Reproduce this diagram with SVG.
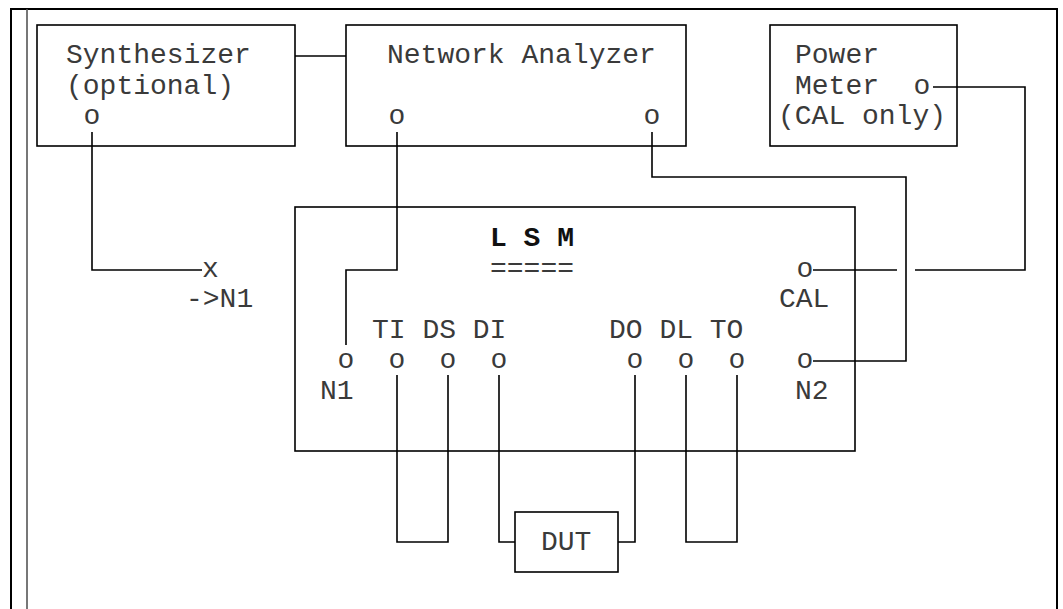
<svg xmlns="http://www.w3.org/2000/svg" width="1063" height="609" viewBox="0 0 1063 609">
<style>
.box{fill:none;stroke:#000;stroke-width:1.6}
.w{fill:none;stroke:#000;stroke-width:1.6}
text{font-family:"Liberation Mono","Courier New",monospace;font-size:28px;fill:#3a3a3a}
.p{text-anchor:middle}
.b{font-weight:bold;fill:#111}
</style>
<rect width="1063" height="609" fill="#fff"/>
<g id="frame">
<path d="M11,609 V9 H1057 V609" fill="none" stroke="#000" stroke-width="2"/>
<path d="M27,9 V609" fill="none" stroke="#555" stroke-width="1.6"/>
</g>
<g id="synthesizer">
<rect class="box" x="37" y="25" width="258" height="121"/>
<text x="66" y="63">Synthesizer</text>
<text x="66" y="93.5">(optional)</text>
<text class="p" x="92" y="124">o</text>
</g>
<g id="network-analyzer">
<rect class="box" x="346" y="25" width="340" height="121"/>
<text x="387" y="63">Network Analyzer</text>
<text class="p" x="397" y="124">o</text>
<text class="p" x="652" y="124">o</text>
</g>
<g id="power-meter">
<rect class="box" x="770" y="25" width="187" height="121"/>
<text x="795" y="63">Power</text>
<text x="795" y="93.5">Meter</text>
<text class="p" x="922" y="93.5">o</text>
<text x="778" y="124">(CAL only)</text>
</g>
<g id="lsm">
<rect class="box" x="295" y="207" width="560" height="244"/>
<text class="b" x="490" y="246">L S M</text>
<text x="490" y="276.5">=====</text>
<text class="p" x="805" y="276.5">o</text>
<text x="779" y="307">CAL</text>
<text x="372" y="337.5">TI DS  DI</text>
<text x="609" y="337.5">DO DL  TO</text>
<text class="p" x="346" y="368">o</text>
<text class="p" x="397" y="368">o</text>
<text class="p" x="448" y="368">o</text>
<text class="p" x="499" y="368">o</text>
<text class="p" x="635" y="368">o</text>
<text class="p" x="686" y="368">o</text>
<text class="p" x="737" y="368">o</text>
<text class="p" x="805" y="368">o</text>
<text x="320" y="398.5">N1</text>
<text x="795" y="398.5">N2</text>
</g>
<g id="dut">
<rect class="box" x="515" y="512" width="103" height="60"/>
<text x="541" y="550">DUT</text>
</g>
<g id="synth-label">
<text x="202" y="277">x</text>
<text x="186" y="307">-&gt;N1</text>
</g>
<g id="connectors">
<path class="w" d="M295,56 H346"/>
<path class="w" d="M92,132 V270 H202"/>
<path class="w" d="M397,132 V270 H346 V345"/>
<path class="w" d="M652,132 V177 H906 V361 H813"/>
<path class="w" d="M933,87 H1025 V270 H915"/>
<path class="w" d="M897,270 H813"/>
<path class="w" d="M397,375 V542 H448 V375"/>
<path class="w" d="M499,375 V542 H515"/>
<path class="w" d="M618,542 H635 V375"/>
<path class="w" d="M686,375 V542 H737 V375"/>
</g>
</svg>
